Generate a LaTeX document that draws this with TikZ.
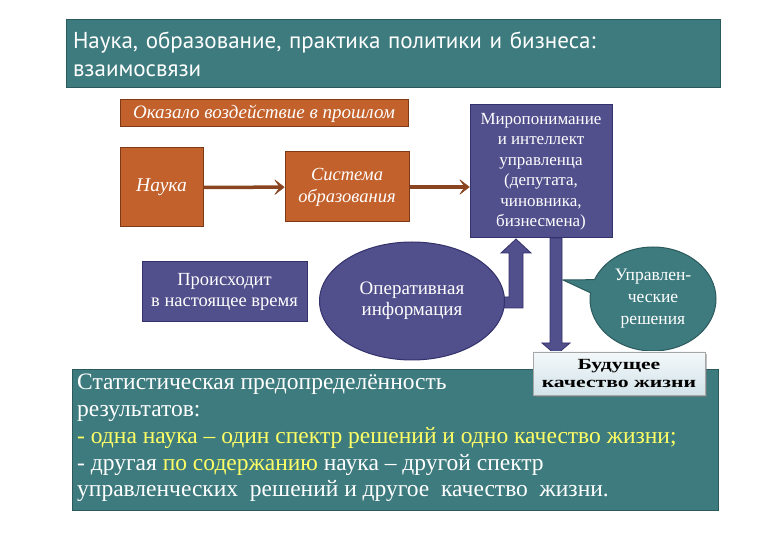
\documentclass[tikz,border=0pt]{standalone}
\usepackage{fontspec}
\setmainfont{Liberation Serif}
\newfontfamily\nktitlefont{PT Sans}
\newfontfamily\nkwidefont[FakeStretch=1.4]{Liberation Serif}
\usetikzlibrary{arrows.meta,positioning,calc,shapes.geometric,shapes.callouts,shadows}
\definecolor{nkteal}    {HTML}{3E7B7E}
\definecolor{nktealdark}{HTML}{2B5A5D}
\definecolor{nkcopper}  {HTML}{C2612B}
\definecolor{nkcopperdk}{HTML}{7E3A17}
\definecolor{nkbrown}   {HTML}{8A4520}
\definecolor{nkviolet}  {HTML}{514F8C}
\definecolor{nkvioletdk}{HTML}{34326A}
\definecolor{nkpale}    {HTML}{F3F8FA}
\definecolor{nkpaledk}  {HTML}{D3E3EA}
\definecolor{nkyellow}  {HTML}{FFFF66}
\tikzset{
  nkpast/.style={draw=nkcopperdk, fill=nkcopper, line width=1pt, inner sep=1pt,
                 text=white, align=center, font=\fontsize{18.5}{22}\selectfont\itshape},
  nknow/.style={draw=nkvioletdk, fill=nkviolet, line width=1pt, inner sep=1pt,
                text=white, align=center, font=\fontsize{18.5}{21}\selectfont},
  nkteal/.style={draw=nktealdark, fill=nkteal, line width=1pt, inner sep=4pt,
                 text=white},
  nkedge/.style={-{Stealth[length=11pt,width=17pt,inset=6pt,line width=0.5pt,round]},
                 draw=nkbrown, line width=3.5pt},
  nkblock/.style={draw=nkvioletdk, fill=nkviolet, line width=0.8pt, line join=miter},
}
\begin{document}
\begin{tikzpicture}[x=1pt,y=-1pt]
  \useasboundingbox[fill=white] (0,0) rectangle (780,540);
  % title
  \node[nkteal, minimum width=654pt, minimum height=68pt, text width=640pt,
        align=left, font=\nktitlefont\fontsize{23}{28}\selectfont]
    (title) at (393,54) {Наука, образование, практика политики и бизнеса:\\взаимосвязи};
  % past
  \node[nkpast, minimum width=288pt, minimum height=27pt,
        font=\fontsize{19}{22}\selectfont\itshape] (past) at (264,113.5)
    {Оказало воздействие в прошлом};
  \node[nkpast, minimum width=83pt, minimum height=79pt,
        font=\fontsize{19.5}{22}\selectfont\itshape] (nauka) at (161.5,187.5) {Наука};
  \node[nkpast, minimum width=124pt, minimum height=70pt] (sys) at (347,187)
    {Система\\образования};
  \node[nknow, minimum width=142pt, minimum height=133pt,
        font=\fontsize{17}{20.5}\selectfont] (mind) at (541,171.5)
    {Миропонимание\\и интеллект\\управленца\\(депутата,\\чиновника,\\бизнесмена)};
  \draw[nkedge] (nauka) -- (sys);
  \draw[nkedge] (sys.east) -- (sys.east -| mind.west);
  % present
  \node[nknow, minimum width=165pt, minimum height=60pt] (now) at (224.5,292)
    {Происходит\\в настоящее время};
  \coordinate (uptip) at (516,239);
  \filldraw[nkblock] (uptip) -- ++(15,14) -- ++(-8,0) -- ++(0,55) -- ++(-30,0)
    -- ++(0,-11) -- ++(16,0) -- ++(0,-44) -- ++(-8,0) -- cycle;
  \node[nknow, ellipse, minimum width=185pt, minimum height=118pt,
        font=\fontsize{19}{21}\selectfont] (oper) at (412,301)
    {Оперативная\\информация};
  \coordinate (downtop) at (550,238);
  \filldraw[nkblock] (downtop) -- ++(0,105) -- ++(-8,0) -- ++(14,12) -- ++(14,-12)
    -- ++(-8,0) -- ++(0,-105) -- cycle;
  \node[nkteal, ellipse callout, callout absolute pointer={(563,280)},
        minimum width=126pt, minimum height=104pt, align=center, inner sep=1pt,
        font=\fontsize{17.5}{22}\selectfont] (dec) at (653,299)
    {Управлен-\\ческие\\решения};
  % conclusion
  \node[nkteal, minimum width=646pt, minimum height=140pt] (concl) at (395,440) {};
  \node[anchor=north west, text=white, align=left, inner sep=0pt,
        font=\fontsize{23.5}{26.8}\selectfont] (conclt) at (77,374)
    {Статистическая предопределённость\\
     результатов:\\
     \textcolor{nkyellow}{- одна наука – один спектр решений и одно качество жизни;}\\
     - другая \textcolor{nkyellow}{по содержанию} наука – другой спектр\\
     управленческих\ \ решений и другое\ \ качество\ \ жизни.};
  \node[draw=gray!70, top color=nkpale, bottom color=nkpaledk, drop shadow,
        minimum width=172pt, minimum height=43pt, align=center, inner sep=1pt,
        font=\nkwidefont\fontsize{15.5}{18.5}\selectfont\bfseries] (future) at (619,373.5)
    {Будущее\\качество жизни};
\end{tikzpicture}
\end{document}
